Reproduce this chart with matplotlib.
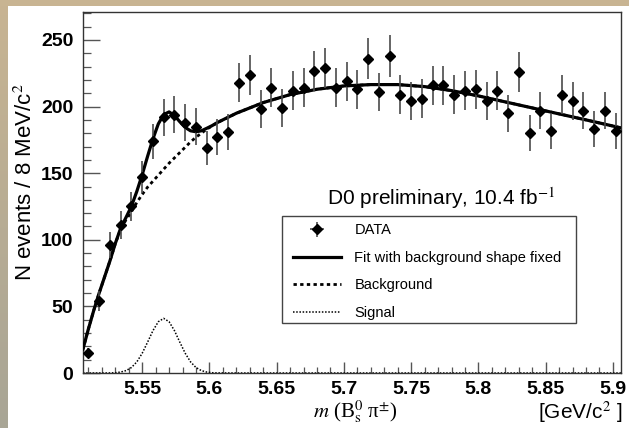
import numpy as np
import matplotlib
matplotlib.use('Agg')
import matplotlib.pyplot as plt
from matplotlib.patches import Rectangle
from matplotlib.ticker import FixedLocator, MultipleLocator

# ---------------- data ----------------
bin_low = 5.506
bin_width = 0.008
counts = [15, 54, 96, 111, 125, 147, 174, 192, 194, 188,
          185, 169, 177, 181, 218, 224, 198, 214, 199, 212,
          214, 227, 229, 214, 219, 213, 236, 211, 238, 209,
          204, 206, 216, 216, 209, 212, 213, 204, 212, 195,
          226, 180, 197, 182, 209, 204, 197, 183, 197, 182]

curve_m = [5.506, 5.510, 5.514, 5.518, 5.522, 5.526, 5.530, 5.534, 5.538, 5.542,
           5.546, 5.550, 5.554, 5.558, 5.562, 5.566, 5.570, 5.574, 5.578, 5.582,
           5.586, 5.590, 5.594, 5.598, 5.602, 5.606, 5.620, 5.640, 5.660, 5.680,
           5.700, 5.720, 5.740, 5.760, 5.780, 5.800, 5.820, 5.840, 5.860, 5.880, 5.906]
background = [18, 33, 47, 60, 72, 84, 97, 108, 115, 121,
              128, 134, 139.5, 144, 148.5, 153, 157.5, 161.5, 165.5, 169.5,
              173.5, 177, 180, 183, 185.5, 188, 195, 203, 209, 213,
              215.5, 216.5, 216.5, 215, 212, 208, 203.5, 199, 194.5, 190, 184]
signal = [0, 0, 0, 0, 0, 0.07, 0.2, 0.7, 1.8, 4.1,
          8.3, 14.8, 23.1, 31.8, 38.5, 41, 38.5, 31.8, 23.1, 14.8,
          8.3, 4.1, 1.8, 0.7, 0.2, 0.07, 0, 0, 0, 0,
          0, 0, 0, 0, 0, 0, 0, 0, 0, 0, 0]

x_ticks = [5.55, 5.60, 5.65, 5.70, 5.75, 5.80, 5.85, 5.90]
x_tick_labels = ['5.55', '5.6', '5.65', '5.7', '5.75', '5.8', '5.85', '5.9']
y_ticks = [0, 50, 100, 150, 200, 250]
y_tick_labels = ['0', '50', '100', '150', '200', '250']

legend_labels = ['DATA', 'Fit with background shape fixed', 'Background', 'Signal']

# ---------------- figure ----------------
W, H = 629, 428
plt.rcParams['mathtext.fontset'] = 'stix'
fig = plt.figure(figsize=(W / 100, H / 100), dpi=100)
fig.patch.set_facecolor('white')

# decorative frame (tan strip on top, gradient strip on left)
fig.patches.append(Rectangle((0, 1 - 6 / H), 1, 6 / H, transform=fig.transFigure,
                             facecolor='#c8b492', edgecolor='none', zorder=0))
gax = fig.add_axes([0, 0, 8 / W, 1])
top_c = np.array([200, 180, 146]) / 255
bot_c = np.array([168, 165, 150]) / 255
tt = np.linspace(0, 1, 200)[:, None, None]
grad = top_c[None, None, :] * (1 - tt) + bot_c[None, None, :] * tt
gax.imshow(grad, aspect='auto', extent=[0, 1, 0, 1])
gax.axis('off')

ax = fig.add_axes([83 / W, (H - 373) / H, (621 - 83) / W, (373 - 12) / H])

counts_a = np.array(counts, dtype=float)
centers = bin_low + bin_width * (np.arange(len(counts)) + 0.5)
yerr = np.sqrt(counts_a)

total = np.array(background) + np.array(signal)

ax.plot(curve_m, background, color='black', lw=2.0, linestyle=(0, (1.2, 1.2)),
        label=legend_labels[2], zorder=2)
ax.plot(curve_m, signal, color='black', lw=1.1, linestyle=(0, (1, 1.1)),
        label=legend_labels[3], zorder=2)
ax.plot(curve_m, total, color='black', lw=2.3, label=legend_labels[1], zorder=3)
eb = ax.errorbar(centers, counts_a, yerr=yerr, xerr=bin_width / 2 * 0.6, fmt='D',
                 ms=5.0, color='black', ecolor='#4a4a4a', elinewidth=1.2,
                 capsize=0, label=legend_labels[0], zorder=4)

ax.set_xlim(5.506, 5.906)
ax.set_ylim(0, 271)

ax.xaxis.set_major_locator(FixedLocator(x_ticks))
ax.set_xticklabels(x_tick_labels)
ax.xaxis.set_minor_locator(MultipleLocator(0.01))
ax.yaxis.set_major_locator(FixedLocator(y_ticks))
ax.set_yticklabels(y_tick_labels)
ax.yaxis.set_minor_locator(MultipleLocator(10))

ax.tick_params(axis='both', which='both', direction='in', color='#555555',
               top=False, right=False)
ax.tick_params(axis='x', which='major', length=8, width=1.0, pad=6)
ax.tick_params(axis='x', which='minor', length=4.5, width=0.9)
ax.tick_params(axis='y', which='major', length=12, width=1.0, pad=7)
ax.tick_params(axis='y', which='minor', length=6, width=0.9)
for lab in ax.get_xticklabels() + ax.get_yticklabels():
    lab.set_fontfamily('Liberation Sans')
    lab.set_fontweight('bold')
    lab.set_fontsize(14)
for sp in ax.spines.values():
    sp.set_color('#333333')
    sp.set_linewidth(1.0)

# axis titles
fig.text(26 / W, 1 - 182 / H, 'N events / 8 MeV/c$^{2}$', rotation=90,
         ha='center', va='center', fontsize=16, family='Liberation Sans')
fig.text(355 / W, 1 - 412 / H, r'$m$ (B$^{0}_{\mathrm{s}}$ π$^{\pm}$)', ha='center',
         va='center', fontsize=15, family='Liberation Serif')
fig.text(580 / W, 1 - 412 / H, '[GeV/c$^{2}$ ]', ha='center', va='center',
         fontsize=15, family='Liberation Sans')

# annotation
ax.text(326.7 / W, 1 - 198 / H, 'D0 preliminary, 10.4 fb$^{-1}$', transform=fig.transFigure,
        ha='left', va='center', fontsize=15, family='Liberation Sans')

# legend: frame drawn separately (inside the axes, below the legend) for exact geometry
frame = Rectangle((281.7 / W, 1 - 322.7 / H), (576 - 281.7) / W, (322.7 - 215.7) / H,
                  transform=fig.transFigure, facecolor='white',
                  edgecolor='#444444', lw=1.0, zorder=5, clip_on=False)
ax.add_patch(frame)
handles, labels = ax.get_legend_handles_labels()
order = [labels.index(l) for l in legend_labels]
leg = ax.legend([handles[i] for i in order], [labels[i] for i in order],
                loc='upper left', bbox_to_anchor=(293 / W, 1 - 223.5 / H),
                bbox_transform=fig.transFigure, frameon=False,
                prop={'family': 'Liberation Sans', 'size': 10.5},
                handlelength=3.3, handletextpad=0.9, labelspacing=0.92,
                borderpad=0, borderaxespad=0)
leg.set_zorder(6)

fig.savefig('out.png', dpi=100, facecolor=fig.get_facecolor())
